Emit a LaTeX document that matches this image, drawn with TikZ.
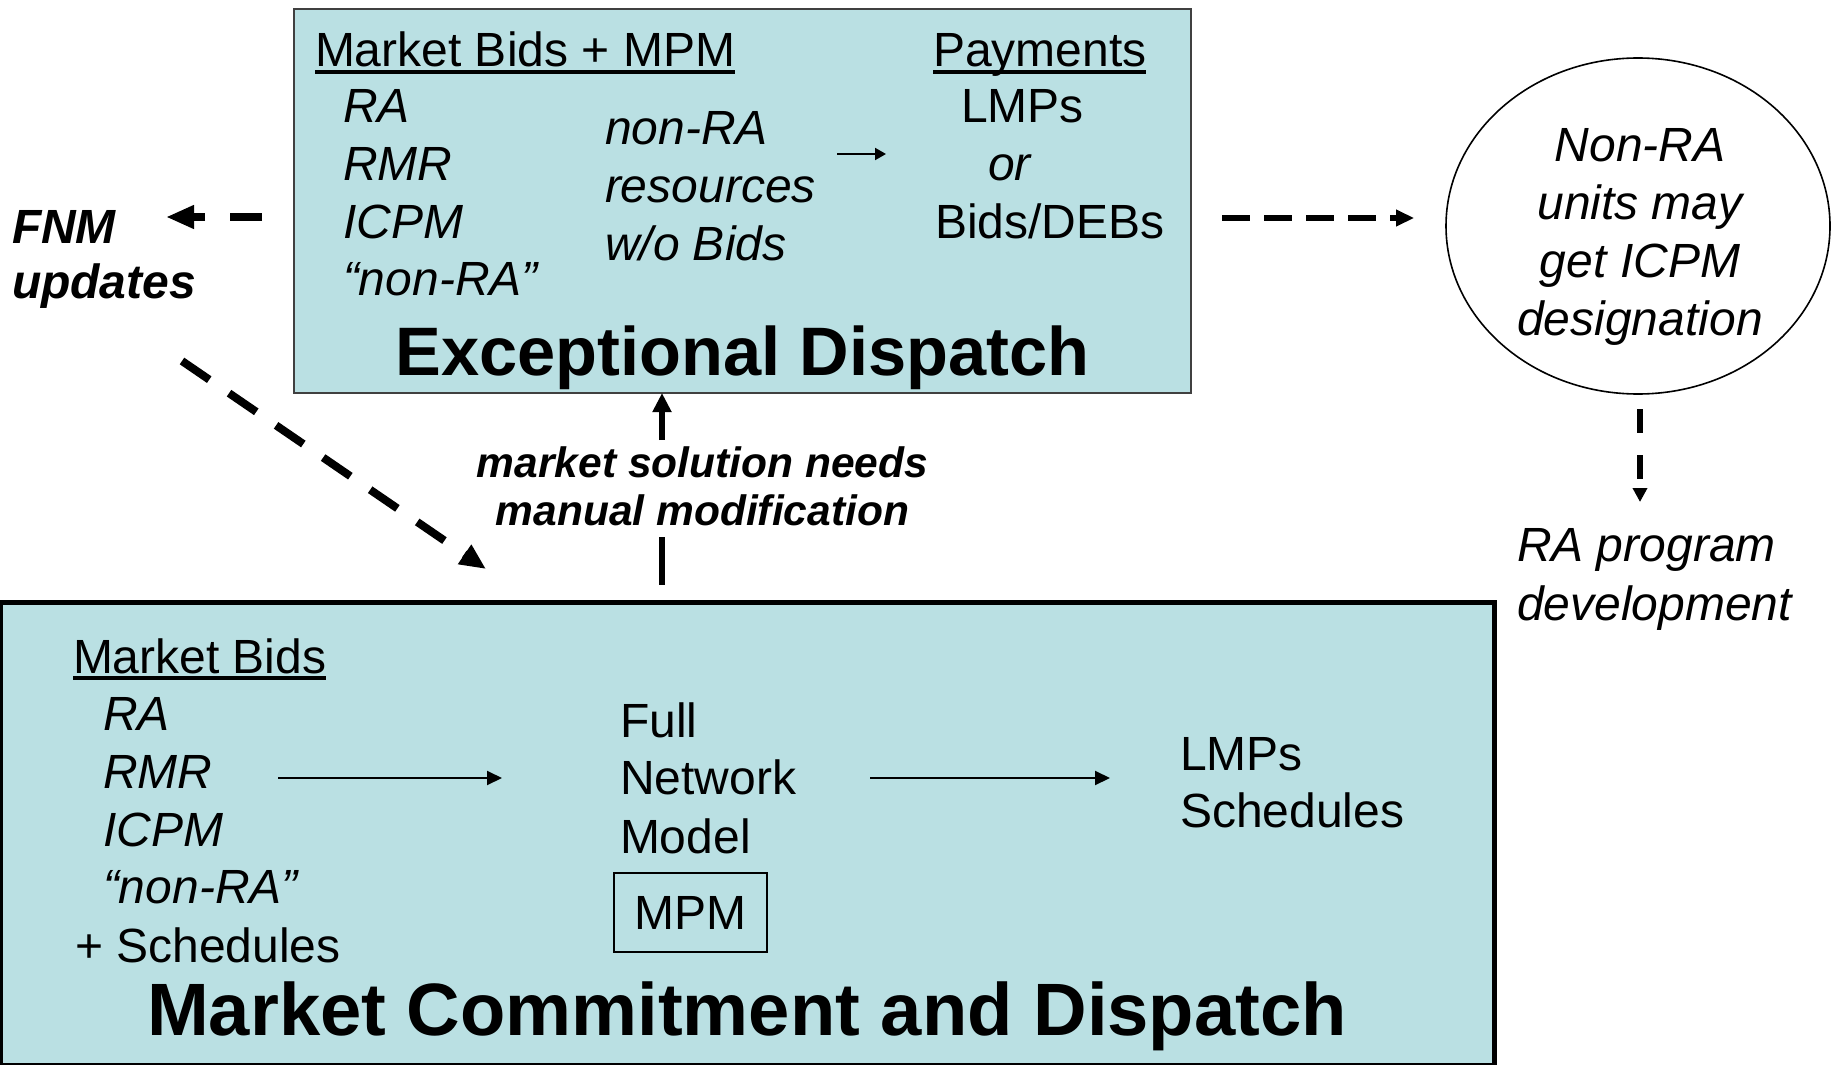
\documentclass[tikz,border=0pt]{standalone}
\usepackage{fontspec}
\setmainfont{Liberation Sans}
\usetikzlibrary{arrows.meta,shapes.geometric}
\definecolor{panel}{RGB}{186,224,227}
\begin{document}
\begin{tikzpicture}[x=0.5pt,y=-0.5pt,
  every node/.style={inner sep=0pt, outer sep=0pt},
  body/.style={anchor=base west, font=\fontsize{24}{29}\selectfont},
  bodyit/.style={anchor=base west, font=\fontsize{24}{29}\selectfont\itshape},
  bodyitc/.style={anchor=base, font=\fontsize{24}{29}\selectfont\itshape},
  note/.style={anchor=base west, font=\fontsize{24}{29}\selectfont\bfseries\itshape},
  trigger/.style={anchor=base, font=\fontsize{21.25}{26}\selectfont\bfseries\itshape},
  title/.style={anchor=base, font=\bfseries},
  uline/.style={line width=1.75pt},
  flow/.style={line width=1pt, -{Triangle[length=7.5pt,width=7pt]}},
  smallflow/.style={line width=1pt, -{Triangle[length=5.5pt,width=6pt]}},
  upflow/.style={line width=3pt, -{Triangle[length=9.5pt,width=9pt]}},
  stem/.style={line width=3pt},
  fnmflow/.style={line width=4pt, dash pattern=on 16pt off 12.5pt, -{Triangle[length=14pt,width=11pt]}},
  diagflow/.style={line width=4pt, dash pattern=on 16.5pt off 12pt, -{Triangle[length=13pt,width=11pt]}},
  sideflow/.style={line width=3pt, dash pattern=on 14pt off 7pt, -{Triangle[length=9pt,width=8pt]}},
  downflow/.style={line width=3pt, dash pattern=on 12pt off 11pt, -{Triangle[length=7pt,width=7pt]}}
]
\useasboundingbox (0,0) rectangle (1832,1065);

% panels
\node[draw=black!75, line width=1pt, fill=panel, minimum width=448.5pt, minimum height=192pt] (ed) at (742.5,201) {};
\node[draw=black, line width=2.5pt, fill=panel, minimum width=747.25pt, minimum height=231.25pt] (mcd) at (747.25,833.75) {};

% Exceptional Dispatch contents
\node[body] (edhead) at (315,67) {Market Bids + MPM};
\draw[uline] ([yshift=-2.5pt]edhead.base west) -- ([yshift=-2.5pt]edhead.base east);
\node[bodyit] (edra) at (343,123) {RA};
\node[bodyit] (edrmr) at (343,181) {RMR};
\node[bodyit] (edicpm) at (343,238) {ICPM};
\node[bodyit] (ednonra) at (343,295) {“non-RA”};
\node[bodyit] (wobA) at (605,145) {non-RA};
\node[bodyit] (wobB) at (605,202) {resources};
\node[bodyit] (wobC) at (605,260) {w/o Bids};
\node[body] (pay) at (933,67) {Payments};
\draw[uline] ([yshift=-2.5pt]pay.base west) -- ([yshift=-2.5pt]pay.base east);
\node[body] (paylmp) at (961,123) {LMPs};
\node[bodyit] (payor) at (988,180) {or};
\node[body] (paybids) at (935,238) {Bids/DEBs};
\node[title, font=\fontsize{34.3}{40}\selectfont\bfseries] (edtitle) at (742.5,375) {Exceptional Dispatch};
\coordinate (wobout) at (837,154);
\coordinate (payin) at (886,154);
\draw[smallflow] (wobout) -- (payin);

% Market Commitment and Dispatch contents
\node[body] (mbhead) at (73,673) {Market Bids};
\draw[uline] ([yshift=-2.5pt]mbhead.base west) -- ([yshift=-2.5pt]mbhead.base east);
\node[bodyit] (mbra) at (103,730) {RA};
\node[bodyit] (mbrmr) at (103,788) {RMR};
\node[bodyit] (mbicpm) at (103,846) {ICPM};
\node[bodyit] (mbnonra) at (103,903) {“non-RA”};
\node[body] (mbsched) at (75,962) {+ Schedules};
\node[body] (fnmA) at (620,737) {Full};
\node[body] (fnmB) at (620,794) {Network};
\node[body] (fnmC) at (620,853) {Model};
\node[draw, line width=1pt, minimum width=76.5pt, minimum height=39.5pt, font=\fontsize{24}{29}\selectfont] (mpm) at (690.5,912.5) {MPM};
\node[body] (outlmp) at (1180,770) {LMPs};
\node[body] (outsched) at (1180,827) {Schedules};
\node[title, font=\fontsize{37.1}{44}\selectfont\bfseries] (mcdtitle) at (747,1035) {Market Commitment and Dispatch};
\coordinate (bidsout) at (278,778);
\coordinate (fnmin) at (502,778);
\coordinate (fnmout) at (870,778);
\coordinate (resin) at (1110,778);
\draw[flow] (bidsout) -- (fnmin);
\draw[flow] (fnmout) -- (resin);

% trigger from market run to exceptional dispatch
\node[trigger] (trigA) at (702.5,477) {market solution needs};
\node[trigger] (trigB) at (702.5,525) {manual modification};
\coordinate (upfoot) at (662,440);
\draw[upflow] (upfoot) -- (upfoot |- ed.south);
\coordinate (stemtop) at (662,537);
\coordinate (stembot) at (662,585);
\draw[stem] (stemtop) -- (stembot);

% FNM updates
\node[note] (fnm) at (12,243) {FNM};
\node[note] (fnmupd) at (12,298) {updates};
\coordinate (edleft) at (262,217);
\coordinate (fnmtip) at (166,217);
\draw[fnmflow] (edleft) -- (fnmtip);
\coordinate (fnmdiag) at (182,361);
\coordinate (mcdtop) at (486,569);
\draw[diagflow] (fnmdiag) -- (mcdtop);

% ICPM designation
\node[draw, line width=0.8pt, ellipse, minimum width=192pt, minimum height=168pt] (ell) at (1638,226) {};
\node[bodyitc] (ellA) at (1640,162) {Non-RA};
\node[bodyitc] (ellB) at (1640,220) {units may};
\node[bodyitc] (ellC) at (1640,277) {get ICPM};
\node[bodyitc] (ellD) at (1640,335) {designation};
\coordinate (edright) at (1222,218);
\coordinate (elltip) at (1414,218);
\draw[sideflow] (edright) -- (elltip);
\coordinate (ellfoot) at (1640,409);
\coordinate (ratip) at (1640,502);
\draw[downflow] (ellfoot) -- (ratip);
\node[bodyit] (raA) at (1517,561) {RA program};
\node[bodyit] (raB) at (1517,620) {development};
\end{tikzpicture}
\end{document}
